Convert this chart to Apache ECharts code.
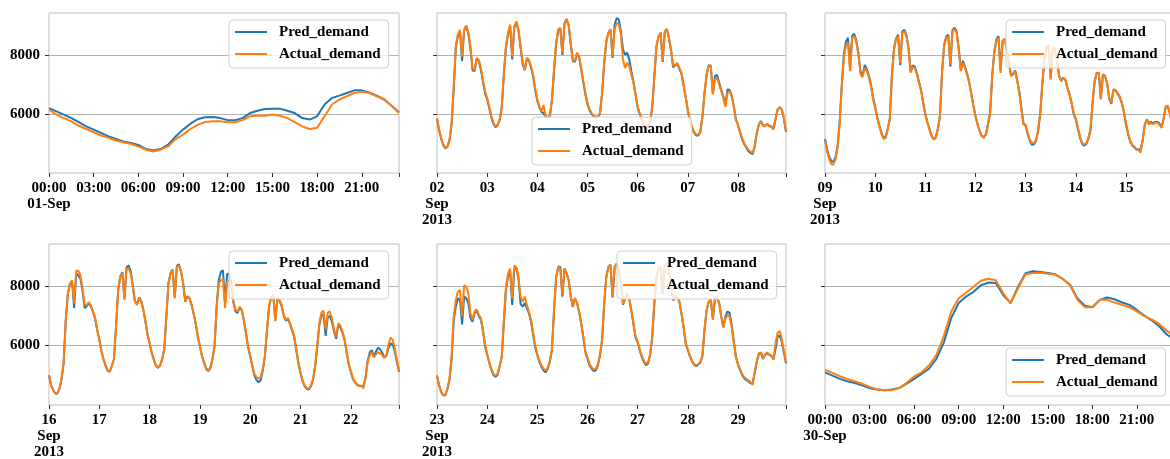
<!DOCTYPE html>
<html>
<head>
<meta charset="utf-8">
<script src="https://cdn.jsdelivr.net/npm/echarts@6/dist/echarts.min.js"></script>
<style>
    html, body { margin: 0; padding: 0; background: #fff; }
    #chart { width: 1170px; height: 459px; }
</style>
</head>
<body>
<div id="chart"></div>
<script>
    // ---- data (half-hourly for the single days, hourly for the weeks) ----
    var sep01Pred = [6200,6090,5980,5860,5720,5580,5470,5360,5240,5150,5070,5020,4950,4810,4760,4810,
        4960,5240,5470,5670,5830,5890,5900,5860,5790,5790,5860,6030,6110,6170,6180,6180,
        6110,6030,5860,5810,5920,6320,6540,6620,6710,6800,6800,6730,6620,6490,6280,6060];
    var sep01Actual = [6150,5980,5860,5750,5600,5490,5380,5270,5190,5100,5040,4980,4900,4790,4730,4790,
        4900,5150,5300,5490,5640,5730,5750,5750,5720,5720,5790,5920,5940,5940,5980,5940,
        5860,5720,5580,5490,5530,5920,6320,6490,6600,6710,6750,6710,6600,6510,6280,6030];

    var week1Pred = [
        5850,5450,5170,4940,4830,4890,5120,5650,6850,8250,8650,8800,7800,8820,8980,8720,8200,7480,7450,7870,7800,7500,7100,6700,
        6500,6200,5880,5660,5550,5610,5790,6230,7350,8250,8700,8980,7850,8930,9100,8820,8250,7680,7480,7880,7800,7580,7280,6800,
        6450,6230,6060,6030,5890,5880,5920,6450,7460,8360,8830,8900,8000,9050,9200,9000,8360,7800,7760,8050,7920,7520,7070,6670,
        6340,6120,6000,5910,5880,5900,6010,6690,7700,8440,8740,8860,7900,9030,9250,9200,8800,8180,8010,8070,7840,7450,7100,6680,
        6230,6000,5830,5610,5500,5560,5730,6230,7250,8280,8620,8750,7760,8780,8870,8560,8150,7580,7640,7700,7530,7360,6950,6560,
        6110,5770,5540,5370,5270,5270,5380,5890,6690,7320,7650,7640,6680,7280,7330,7060,6830,6600,6320,6830,6820,6630,6280,5820,
        5620,5380,5150,4980,4860,4740,4680,4640,4880,5340,5640,5760,5620,5600,5660,5600,5580,5500,5830,6160,6230,6140,5840,5390];
    var week1Actual = [
        5860,5470,5190,4960,4850,4900,5130,5700,6900,8300,8700,8850,7950,8860,9000,8750,8300,7560,7480,7900,7840,7560,7160,6770,
        6540,6260,5920,5700,5580,5640,5810,6260,7390,8300,8750,9030,7950,8970,9140,8860,8300,7730,7500,7900,7840,7620,7330,6850,
        6490,6260,6090,6300,5920,5900,5940,6490,7500,8400,8860,8920,8070,9080,9220,9030,8400,7840,7790,8070,7950,7560,7110,6710,
        6370,6150,6030,5940,5900,5920,6030,6710,7730,8460,8750,8860,7950,8860,9080,9030,8690,7840,7560,7730,7620,7330,7050,6660,
        6260,6030,5860,5640,5530,5580,5750,6260,7280,8300,8630,8750,7790,8800,8880,8580,8180,7620,7670,7730,7560,7390,6990,6600,
        6150,5810,5580,5410,5300,5300,5410,5920,6710,7330,7640,7620,6660,7160,7220,6990,6770,6540,6240,6710,6770,6600,6260,5810,
        5640,5410,5190,5020,4900,4790,4730,4680,4900,5360,5640,5750,5600,5580,5640,5580,5560,5470,5810,6150,6230,6150,5860,5410];

    var week2Pred = [
        5150,4800,4560,4400,4380,4530,4900,5700,6950,7980,8450,8580,7550,8650,8720,8480,8070,7420,7320,7660,7520,7300,6990,6560,
        6250,5900,5620,5370,5190,5220,5490,5830,7300,8200,8560,8680,7650,8800,8850,8660,8220,7450,7650,7600,7370,7080,6810,6380,
        6000,5720,5490,5260,5150,5210,5490,5940,7410,8330,8620,8680,7600,8840,8920,8790,8220,7480,7800,7600,7360,7080,6690,6290,
        5940,5660,5430,5260,5210,5320,5660,6050,7300,8100,8520,8640,7500,8480,8540,8200,7760,7300,7360,7470,7140,6740,6180,5670,
        5600,5320,5090,4960,4970,5090,5440,6000,7030,7840,8260,8330,7200,8260,8200,7850,7300,7120,7230,7170,6890,6670,6360,6000,
        5820,5490,5200,5000,4920,4980,5150,5430,6330,7090,7390,7400,6520,7340,7290,7040,6520,6340,6810,6800,6690,6570,6370,6070,
        5660,5330,5070,4930,4870,4790,4810,4780,5100,5620,5820,5680,5730,5680,5730,5730,5680,5560,5820,6240,6260,6030,5700,5520];
    var week2Actual = [
        5100,4730,4480,4300,4280,4450,4850,5650,6900,7900,8300,8420,7450,8550,8650,8420,8000,7350,7250,7560,7450,7250,6950,6500,
        6200,5860,5580,5330,5150,5190,5470,5810,7280,8180,8520,8630,7730,8750,8800,8630,8180,7400,7600,7550,7330,7050,6780,6350,
        5980,5700,5470,5240,5130,5190,5470,5920,7390,8300,8580,8630,7670,8800,8880,8750,8180,7450,7730,7560,7330,7050,6660,6260,
        5920,5640,5410,5240,5190,5300,5640,6030,7280,8070,8460,8580,7390,8460,8520,8180,7730,7280,7330,7450,7110,6710,6150,5640,
        5640,5360,5130,5020,5020,5130,5470,6030,7050,7840,8240,8300,7160,8240,8180,7840,7280,7110,7220,7160,6880,6660,6370,6030,
        5860,5530,5240,5040,4960,5020,5190,5470,6370,7110,7390,7390,6490,7330,7280,7050,6540,6370,6830,6820,6710,6600,6400,6100,
        5700,5360,5100,4960,4900,4820,4780,4690,5130,5640,5810,5640,5700,5640,5700,5700,5640,5530,5810,6260,6280,6030,5700,5530];

    var week3Pred = [
        5000,4660,4500,4390,4390,4550,4880,5420,6850,7740,8070,8150,7260,8420,8360,8250,7850,7260,7330,7420,7330,7130,6910,6520,
        6200,5810,5540,5320,5150,5120,5320,5540,6650,7870,8330,8470,7600,8640,8700,8500,8020,7500,7400,7620,7500,7220,6830,6360,
        6080,5750,5530,5330,5250,5320,5540,5870,6980,8100,8440,8560,7620,8680,8740,8500,8100,7480,7660,7600,7380,7080,6740,6300,
        5970,5640,5420,5220,5140,5250,5530,5990,7350,8200,8480,8530,7420,8420,8400,8100,7450,7150,7100,7280,7180,6850,6400,5950,
        5630,5300,5000,4830,4770,4830,5150,5620,6500,7290,7640,7700,6850,7600,7500,7330,7000,6840,6900,6730,6510,6280,5840,5400,
        5080,4800,4630,4540,4520,4630,4850,5300,5960,6700,7010,7040,6330,6960,6990,6800,6480,6230,6680,6620,6440,6200,5770,5370,
        5130,4880,4760,4680,4640,4640,4640,4900,5460,5760,5850,5620,5800,5930,5880,5760,5600,5660,5920,6070,6040,5800,5450,5120];
    var week3Actual = [
        5000,4660,4500,4390,4390,4550,4880,5440,6870,7760,8090,8200,7430,8530,8510,8360,7920,7370,7370,7460,7350,7150,6930,6540,
        6210,5820,5550,5330,5160,5130,5330,5550,6650,7870,8310,8440,7540,8590,8590,8420,7980,7480,7370,7590,7480,7200,6820,6380,
        6100,5770,5550,5350,5270,5330,5550,5880,6980,8090,8420,8530,7590,8640,8700,8480,8090,7480,7650,7590,7370,7090,6760,6320,
        5990,5660,5440,5240,5160,5270,5550,5990,7310,8090,8200,8250,7260,8150,8200,8000,7480,7200,7150,7310,7200,6870,6430,5990,
        5660,5330,5050,4940,4880,4940,5220,5660,6540,7310,7650,7700,6820,7650,7540,7370,7040,6870,6930,6760,6540,6320,5880,5440,
        5100,4830,4660,4570,4550,4660,4880,5330,5990,6760,7120,7170,6540,7100,7150,6920,6560,6300,6750,6680,6480,6230,5800,5400,
        5150,4900,4780,4700,4660,4650,4560,4880,5440,5660,5780,5600,5700,5780,5740,5680,5580,5700,6050,6270,6200,5900,5500,5160];

    var week4Pred = [
        4990,4660,4440,4330,4330,4540,4850,5560,6850,7310,7590,7540,6710,7650,7590,7430,6930,6800,7100,7180,7000,6880,6480,5980,
        5700,5420,5190,5010,4950,5010,5300,5620,6800,7880,8330,8480,7370,8590,8600,8250,7400,7310,7430,7270,7080,6810,6380,5940,
        5680,5450,5280,5160,5100,5220,5450,5850,7180,8290,8650,8650,7650,8600,8430,8210,7640,7300,7600,7440,7140,6740,6280,5780,
        5560,5330,5220,5140,5170,5330,5670,6180,7400,8300,8650,8720,7620,8650,8760,8540,8080,7380,7580,7740,7570,7170,6720,6270,
        6110,5840,5620,5450,5340,5400,5680,6300,7420,8300,8600,8660,7730,8720,8760,8540,8080,7520,7640,7640,7460,7060,6610,6060,
        5860,5640,5470,5360,5310,5360,5430,5650,6520,7180,7470,7540,6880,7600,7620,7440,6990,6620,6980,7150,7100,6700,6180,5640,
        5360,5190,5010,4900,4840,4790,4730,4740,5060,5450,5720,5750,5550,5680,5740,5690,5640,5540,5880,6320,6330,6120,5760,5400];
    var week4Actual = [
        4990,4660,4440,4330,4330,4550,4880,5660,6980,7540,7810,7870,6980,8030,7980,7760,7090,6870,7150,7220,7040,6930,6540,6040,
        5710,5440,5220,5050,4990,5050,5330,5660,6870,7980,8420,8590,7590,8700,8640,8310,7650,7480,7650,7370,7150,6870,6430,5990,
        5710,5490,5330,5220,5160,5270,5490,5880,7200,8310,8640,8590,7700,8590,8420,8200,7650,7310,7590,7430,7150,6760,6320,5820,
        5600,5380,5270,5190,5220,5380,5710,6210,7430,8310,8640,8700,7650,8640,8750,8530,8090,7400,7600,7760,7590,7200,6760,6320,
        6150,5880,5660,5490,5380,5440,5710,6320,7430,8310,8590,8640,7760,8700,8750,8530,8090,7540,7650,7650,7480,7090,6650,6100,
        5880,5660,5490,5380,5330,5380,5440,5660,6540,7200,7480,7540,6870,7590,7590,7430,6980,6600,6900,7040,6980,6600,6100,5600,
        5380,5220,5050,4940,4880,4830,4770,4680,5100,5490,5750,5770,5570,5710,5770,5710,5660,5550,6100,6430,6490,6210,5820,5440];

    var sep30Pred = [5100,4990,4880,4800,4740,4660,4570,4520,4500,4520,4570,4720,4880,5050,5220,5550,
        6100,6930,7430,7650,7810,8030,8120,8110,7700,7430,7980,8440,8500,8480,8440,8400,
        8250,8050,7590,7340,7290,7540,7620,7560,7450,7370,7200,7010,6850,6650,6380,6210];
    var sep30Actual = [5190,5080,4970,4880,4800,4720,4610,4530,4500,4500,4570,4750,4960,5100,5330,5680,
        6320,7150,7590,7780,7980,8180,8250,8200,7760,7430,7930,8390,8440,8450,8420,8390,
        8250,8030,7540,7290,7290,7540,7540,7450,7370,7290,7150,6990,6880,6730,6510,6320];

    // tick labels
    var sep01Ticks = ['00:00\n01-Sep', '03:00', '06:00', '09:00', '12:00', '15:00', '18:00', '21:00'];
    var sep30Ticks = ['00:00\n30-Sep', '03:00', '06:00', '09:00', '12:00', '15:00', '18:00', '21:00'];
    var week1Ticks = ['02\nSep\n2013', '03', '04', '05', '06', '07', '08'];
    var week2Ticks = ['09\nSep\n2013', '10', '11', '12', '13', '14', '15'];
    var week3Ticks = ['16\nSep\n2013', '17', '18', '19', '20', '21', '22'];
    var week4Ticks = ['23\nSep\n2013', '24', '25', '26', '27', '28', '29'];
    var yTicks = [6000, 8000];
    var seriesNames = ['Pred_demand', 'Actual_demand'];

    // ---- layout ----
    var FONT = '"Liberation Serif", "Times New Roman", serif';
    var panels = [
        {pred: sep01Pred, actual: sep01Actual, step: 0.5, interval: 3, ticks: sep01Ticks,
            box: [49, 13, 350, 160], legend: [229, 20]},
        {pred: week1Pred, actual: week1Actual, step: 1, interval: 24, ticks: week1Ticks,
            box: [437, 13, 349, 160], legend: [532, 117]},
        {pred: week2Pred, actual: week2Actual, step: 1, interval: 24, ticks: week2Ticks,
            box: [825, 13, 349, 160], legend: [1006, 20]},
        {pred: week3Pred, actual: week3Actual, step: 1, interval: 24, ticks: week3Ticks,
            box: [49, 244, 350, 161], legend: [229, 251]},
        {pred: week4Pred, actual: week4Actual, step: 1, interval: 24, ticks: week4Ticks,
            box: [437, 244, 349, 161], legend: [617, 251]},
        {pred: sep30Pred, actual: sep30Actual, step: 0.5, interval: 3, ticks: sep30Ticks,
            box: [825, 244, 349, 161], legend: [1006, 348]}
    ];

    function toPairs(arr, step) {
        return arr.map(function (v, i) { return [i * step, v]; });
    }

    var grids = [], xAxes = [], yAxes = [], series = [], legends = [];
    var labelStyle = {fontFamily: FONT, fontWeight: 'bold', fontSize: 15, color: '#000'};

    panels.forEach(function (p, k) {
        grids.push({
            left: p.box[0], top: p.box[1], width: p.box[2], height: p.box[3],
            show: true, borderColor: '#bdbdbd', borderWidth: 1,
            containLabel: false, outerBoundsMode: 'none'
        });
        xAxes.push({
            type: 'value', gridIndex: k,
            min: 0, max: (p.pred.length - 1) * p.step, interval: p.interval,
            axisLine: {show: false},
            axisTick: {show: true, length: 4, lineStyle: {color: '#333'}},
            splitLine: {show: false},
            axisLabel: Object.assign({}, labelStyle, {
                margin: 7, lineHeight: 16,
                showMinLabel: true, showMaxLabel: true,
                formatter: (function (ticks, interval) {
                    return function (v) {
                        var i = v / interval;
                        return (Math.abs(i - Math.round(i)) < 1e-6 && ticks[Math.round(i)] !== undefined) ? ticks[Math.round(i)] : '';
                    };
                })(p.ticks, p.interval)
            })
        });
        yAxes.push({
            type: 'value', gridIndex: k,
            min: 4000, max: 9420, interval: 2000,
            axisLine: {show: false},
            axisTick: {show: true, length: 4, lineStyle: {color: '#333'}, customValues: yTicks},
            splitLine: {show: true, lineStyle: {color: '#b3b3b3', width: 1}},
            axisLabel: Object.assign({}, labelStyle, {
                show: k % 3 === 0, margin: 9, customValues: yTicks,
                formatter: function (v) { return yTicks.indexOf(v) >= 0 ? String(v) : ''; }
            })
        });
        series.push({
            name: seriesNames[0], type: 'line', xAxisIndex: k, yAxisIndex: k,
            data: toPairs(p.pred, p.step), showSymbol: false, symbol: 'none',
            color: '#1f77b4', lineStyle: {width: 2, color: '#1f77b4'}, z: 2
        });
        series.push({
            name: seriesNames[1], type: 'line', xAxisIndex: k, yAxisIndex: k,
            data: toPairs(p.actual, p.step), showSymbol: false, symbol: 'none',
            color: '#ff7f0e', lineStyle: {width: 2, color: '#ff7f0e'}, z: 3
        });
        legends.push({
            data: seriesNames, orient: 'vertical',
            left: p.legend[0], top: p.legend[1],
            icon: 'rect', itemWidth: 32, itemHeight: 2, itemGap: 6,
            padding: [4, 8, 6, 6],
            backgroundColor: 'rgba(255,255,255,0.8)',
            borderColor: '#d0d0d0', borderWidth: 1, borderRadius: 4,
            selectedMode: false,
            textStyle: {fontFamily: FONT, fontWeight: 'bold', fontSize: 15, color: '#000',
                lineHeight: 16, padding: [0, 0, 0, 7]}
        });
    });

    var myChart = echarts.init(document.getElementById('chart'));
    myChart.setOption({
        animation: false,
        backgroundColor: '#fff',
        grid: grids,
        xAxis: xAxes,
        yAxis: yAxes,
        legend: legends,
        series: series
    });
</script>
</body>
</html>
